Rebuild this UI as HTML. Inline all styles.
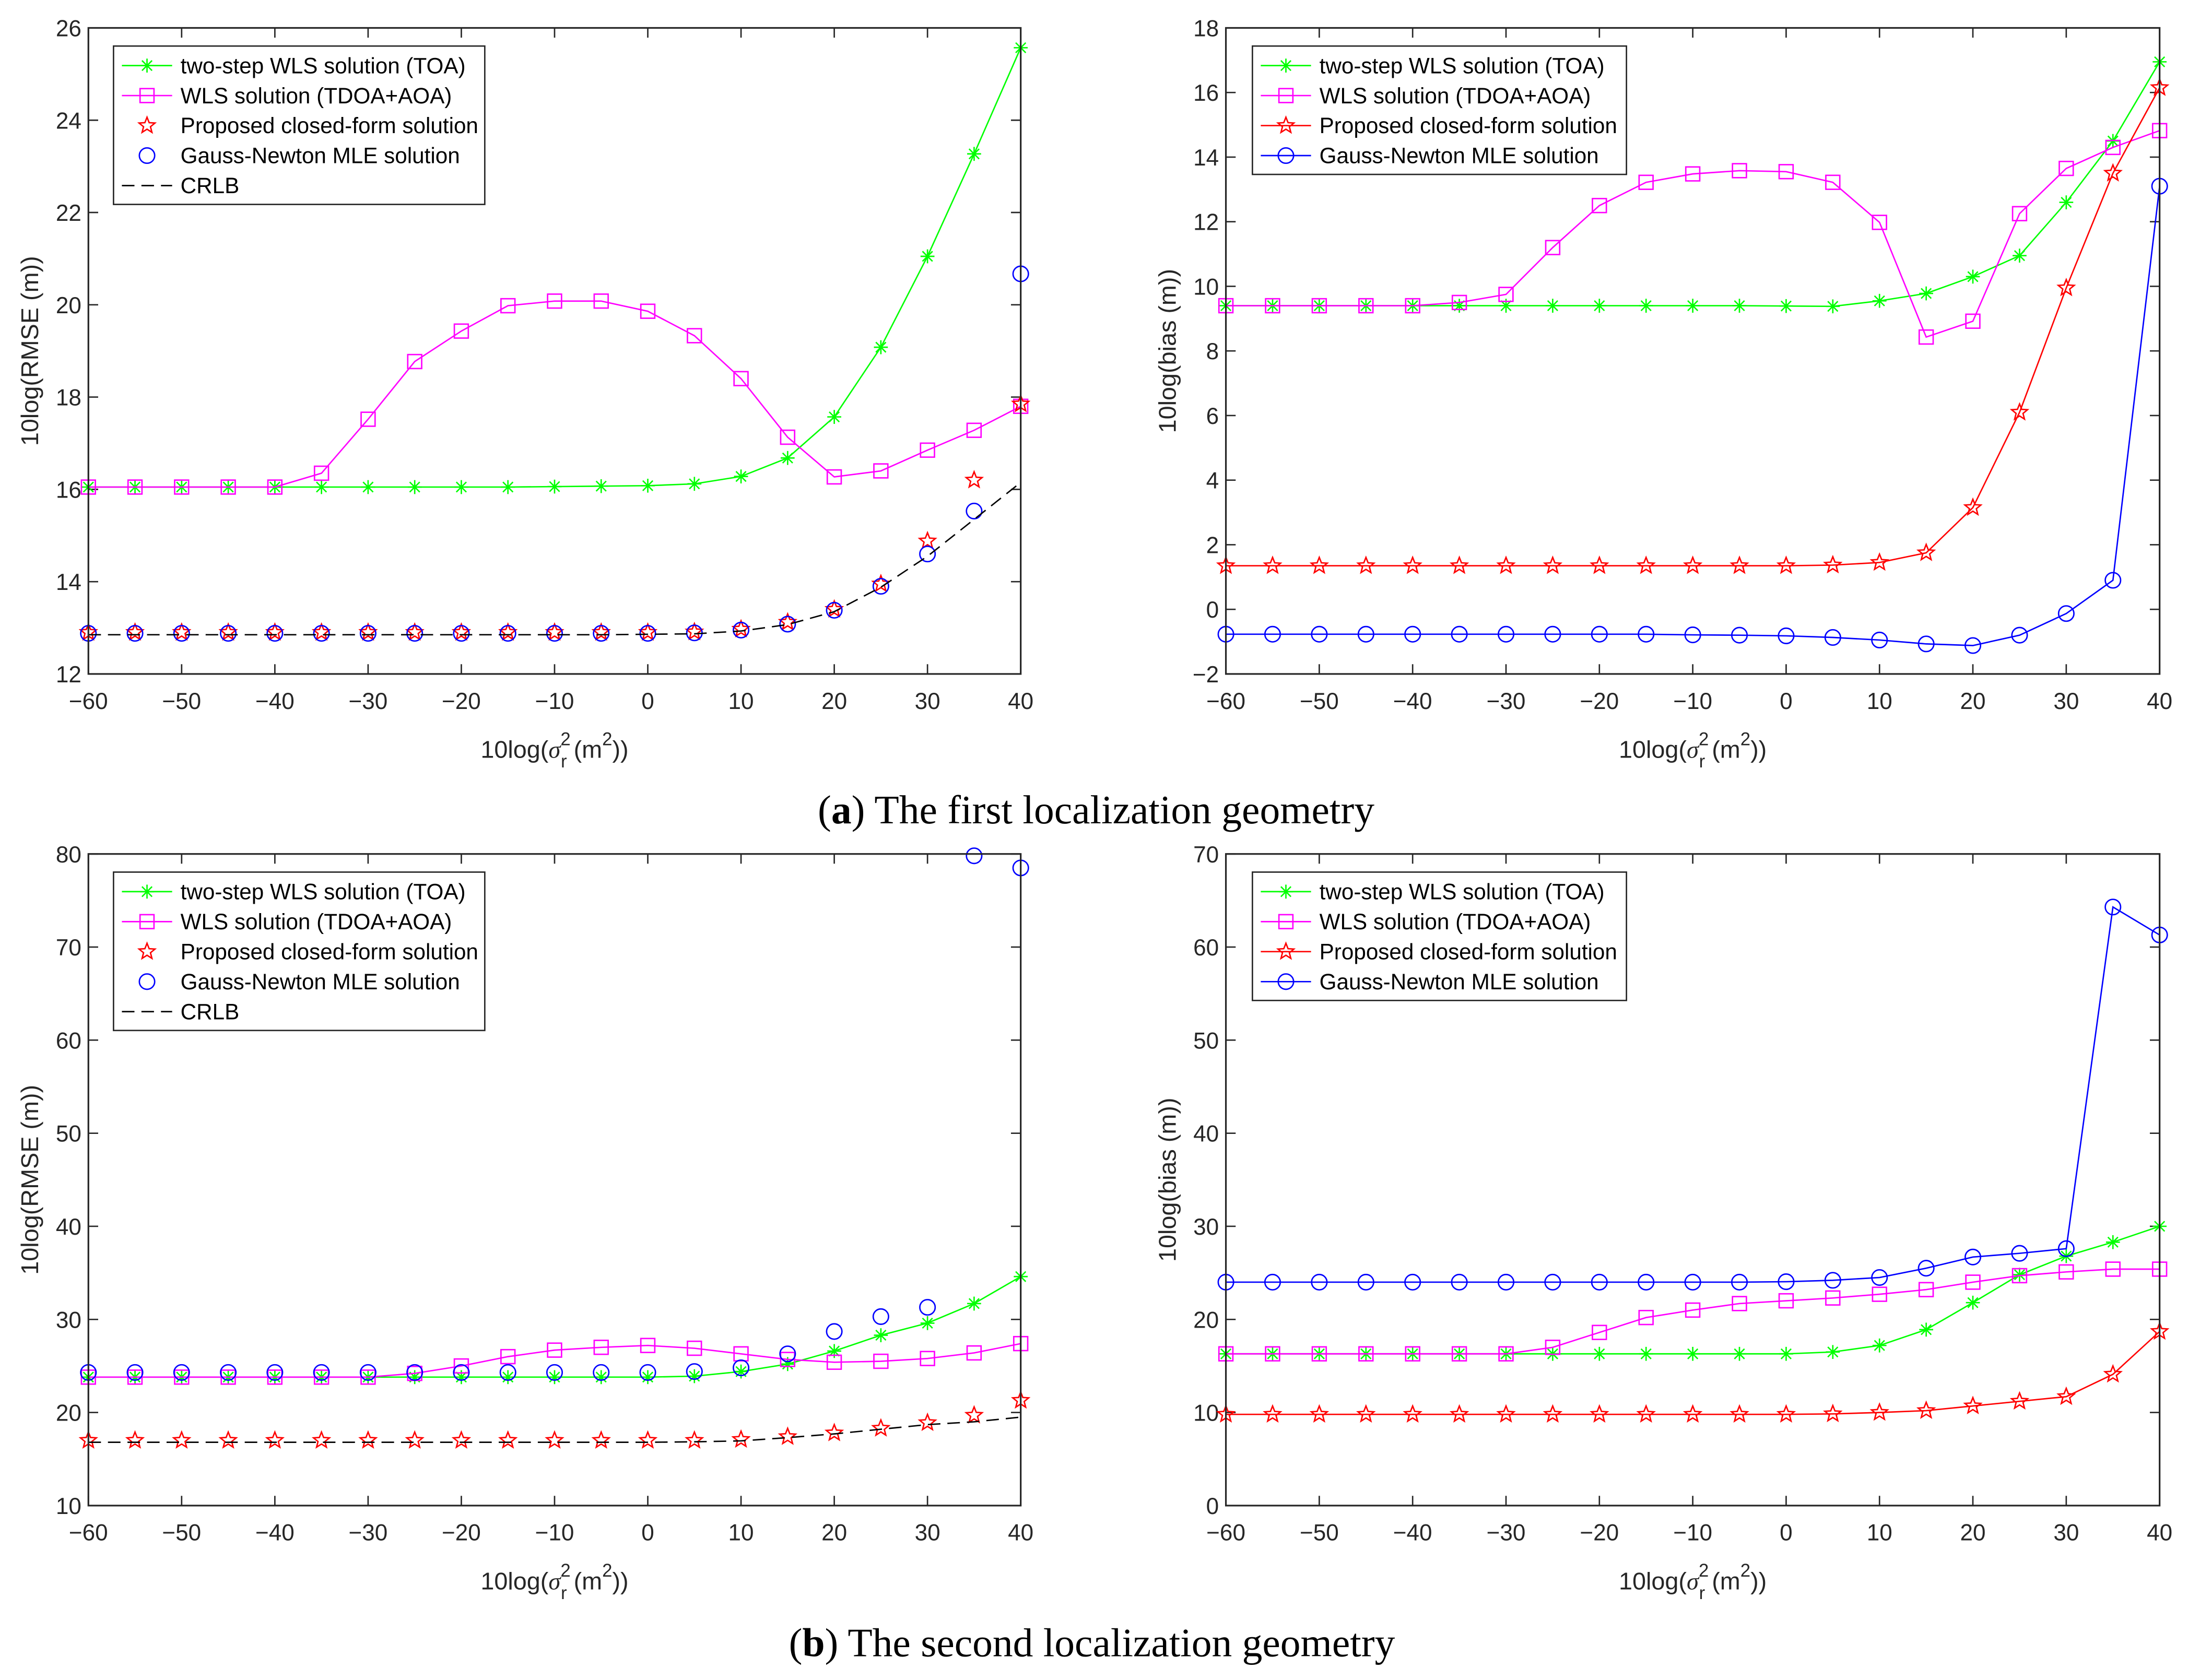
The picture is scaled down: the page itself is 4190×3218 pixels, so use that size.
<!DOCTYPE html>
<html><head><meta charset="utf-8"><style>
html,body{margin:0;padding:0;background:#fff;}
svg{display:block;}
text{font-family:"Liberation Sans",sans-serif;}
.cap{font-family:"Liberation Serif",serif;font-size:29px;}
</style></head><body>
<svg id="fig" xmlns="http://www.w3.org/2000/svg" width="4190" height="3218" viewBox="0 0 1567 1204">
<rect width="1567" height="1204" fill="#fff"/>
<text class="cap" x="785" y="590" text-anchor="middle">(<tspan font-weight="bold">a</tspan>) The first localization geometry</text>
<text class="cap" x="782" y="1187" text-anchor="middle">(<tspan font-weight="bold">b</tspan>) The second localization geometry</text>
</svg>
<script>
const xVals=[-60,-55,-50,-45,-40,-35,-30,-25,-20,-15,-10,-5,0,5,10,15,20,25,30,35,40];
const xTicks=[-60,-50,-40,-30,-20,-10,0,10,20,30,40];
// Panel a1: RMSE geometry 1
const a1Toa=[16.05,16.05,16.05,16.05,16.05,16.05,16.05,16.05,16.05,16.05,16.06,16.07,16.08,16.12,16.28,16.68,17.57,19.08,21.05,23.27,25.57];
const a1Wls=[16.05,16.05,16.05,16.05,16.05,16.35,17.52,18.77,19.43,19.98,20.08,20.08,19.86,19.33,18.4,17.13,16.27,16.4,16.85,17.28,17.8];
const a1Prop=[12.9,12.9,12.9,12.9,12.9,12.9,12.9,12.9,12.9,12.9,12.9,12.9,12.9,12.91,12.97,13.12,13.4,13.95,14.88,16.2,17.85];
const a1Gn=[12.88,12.88,12.88,12.88,12.88,12.88,12.88,12.88,12.88,12.88,12.88,12.88,12.88,12.89,12.95,13.08,13.38,13.9,14.6,15.53,20.67];
const a1Crlb=[12.85,12.85,12.85,12.85,12.85,12.85,12.85,12.85,12.85,12.85,12.85,12.85,12.86,12.87,12.93,13.07,13.35,13.88,14.55,15.35,16.15];
const a1YTicks=[12,14,16,18,20,22,24,26];
// Panel a2: bias geometry 1
const a2Toa=[9.4,9.4,9.4,9.4,9.4,9.4,9.4,9.4,9.4,9.4,9.4,9.4,9.39,9.38,9.55,9.78,10.3,10.95,12.6,14.5,16.95];
const a2Wls=[9.4,9.4,9.4,9.4,9.4,9.5,9.75,11.2,12.5,13.22,13.48,13.58,13.55,13.22,11.98,8.43,8.92,12.25,13.65,14.3,14.82];
const a2Prop=[1.35,1.35,1.35,1.35,1.35,1.35,1.35,1.35,1.35,1.35,1.35,1.35,1.35,1.37,1.45,1.75,3.15,6.1,9.95,13.5,16.15];
const a2Gn=[-0.77,-0.77,-0.77,-0.77,-0.77,-0.77,-0.77,-0.77,-0.77,-0.77,-0.79,-0.8,-0.82,-0.87,-0.95,-1.07,-1.12,-0.8,-0.13,0.9,13.1];
const a2YTicks=[-2,0,2,4,6,8,10,12,14,16,18];
// Panel b1: RMSE geometry 2
const b1Toa=[23.8,23.8,23.8,23.8,23.8,23.8,23.8,23.8,23.8,23.8,23.8,23.8,23.8,23.9,24.4,25.2,26.6,28.3,29.6,31.7,34.6];
const b1Wls=[23.8,23.8,23.8,23.8,23.8,23.8,23.8,24.2,25.0,26.0,26.7,27.0,27.2,26.9,26.3,25.7,25.4,25.5,25.8,26.4,27.4];
const b1Prop=[17.0,17.0,17.0,17.0,17.0,17.0,17.0,17.0,17.0,17.0,17.0,17.0,17.0,17.0,17.1,17.4,17.8,18.3,18.9,19.7,21.3];
const b1Gn=[24.3,24.3,24.3,24.3,24.3,24.3,24.3,24.3,24.3,24.3,24.3,24.3,24.3,24.4,24.8,26.3,28.7,30.3,31.3,79.8,78.5];
const b1Crlb=[16.8,16.8,16.8,16.8,16.8,16.8,16.8,16.8,16.8,16.8,16.8,16.8,16.8,16.85,16.95,17.3,17.7,18.2,18.7,19.0,19.5];
const b1YTicks=[10,20,30,40,50,60,70,80];
// Panel b2: bias geometry 2
const b2Toa=[16.3,16.3,16.3,16.3,16.3,16.3,16.3,16.3,16.3,16.3,16.3,16.3,16.3,16.5,17.2,18.9,21.8,24.8,26.8,28.3,30.0];
const b2Wls=[16.3,16.3,16.3,16.3,16.3,16.3,16.3,17.0,18.6,20.2,21.0,21.7,22.0,22.3,22.7,23.2,24.0,24.7,25.1,25.4,25.4];
const b2Prop=[9.8,9.8,9.8,9.8,9.8,9.8,9.8,9.8,9.8,9.8,9.8,9.8,9.8,9.85,10.0,10.2,10.7,11.2,11.7,14.1,18.7];
const b2Gn=[24.0,24.0,24.0,24.0,24.0,24.0,24.0,24.0,24.0,24.0,24.0,24.0,24.05,24.2,24.5,25.5,26.7,27.1,27.6,64.3,61.3];
const b2YTicks=[0,10,20,30,40,50,60,70];

const NS="http://www.w3.org/2000/svg";
const svg=document.getElementById('fig');
function mk(tag,attrs,parent){const e=document.createElementNS(NS,tag);for(const k in attrs)e.setAttribute(k,attrs[k]);(parent||svg).appendChild(e);return e;}
function fmt(v){return v<0?'\u2212'+Math.abs(v):String(v);}
function marker(g,type,x,y,color){
  const s=5;
  let m;
  if(type==='star'){
    let p=[];for(let i=0;i<10;i++){const r=i%2?2.6:6;const a=-Math.PI/2+i*Math.PI/5;p.push((x+r*Math.cos(a)).toFixed(2)+','+(y+r*Math.sin(a)).toFixed(2));}
    m=mk('polygon',{points:p.join(' '),fill:'none',stroke:color,'stroke-width':1},g);
  }else if(type==='square'){
    m=mk('rect',{x:x-5,y:y-5,width:10,height:10,fill:'none',stroke:color,'stroke-width':1},g);
  }else if(type==='circle'){
    m=mk('circle',{cx:x,cy:y,r:5.5,fill:'none',stroke:color,'stroke-width':1},g);
  }else{
    let d='M'+(x-s)+' '+y+'H'+(x+s)+'M'+x+' '+(y-s)+'V'+(y+s)+'M'+(x-3.6)+' '+(y-3.6)+'L'+(x+3.6)+' '+(y+3.6)+'M'+(x-3.6)+' '+(y+3.6)+'L'+(x+3.6)+' '+(y-3.6);
    m=mk('path',{d:d,stroke:color,'stroke-width':1,fill:'none'},g);
  }
  return m;
}
function panel(id,box,ymin,ymax,yTicks,ylabel,series,legend){
  const g=mk('g',{});
  
  
  const [L,T,R,B]=box;
  const sx=v=>L+(v-(-60))/(100)*(R-L);
  const sy=v=>B-(v-ymin)/(ymax-ymin)*(B-T);
  mk('rect',{x:L,y:T,width:R-L,height:B-T,fill:'#fff'},g);
  xTicks.forEach(t=>{
    const x=sx(t);
    mk('path',{d:`M${x} ${B}V${B-7}M${x} ${T}V${T+7}`,stroke:'#262626','stroke-width':1},g);
    const tx=mk('text',{x:x,y:B+25,'text-anchor':'middle','font-size':16.5,fill:'#262626'},g);
    tx.textContent=fmt(t);
    
    
  });
  yTicks.forEach(t=>{
    const y=sy(t);
    mk('path',{d:`M${L} ${y}H${L+7}M${R} ${y}H${R-7}`,stroke:'#262626','stroke-width':1},g);
    const tx=mk('text',{x:L-5,y:y+6,'text-anchor':'end','font-size':16.5,fill:'#262626'},g);
    tx.textContent=fmt(t);
    
    
  });
  series.forEach(s=>{
    const sg=mk('g',{},g);
    
    
    if(s.line){
      const pts=s.data.map((v,i)=>sx(xVals[i]).toFixed(2)+','+sy(v).toFixed(2)).join(' ');
      const a={points:pts,fill:'none',stroke:s.color,'stroke-width':1};
      if(s.dash)a['stroke-dasharray']='9,5';
      mk('polyline',a,sg);
    }
    if(s.marker){
      s.data.forEach((v,i)=>{const m=marker(sg,s.marker,sx(xVals[i]),sy(v),s.color);
        
        });
    }
  });
  mk('rect',{x:L,y:T,width:R-L,height:B-T,fill:'none',stroke:'#262626','stroke-width':1.2},g);
  const xl=mk('text',{x:(L+R)/2,y:B+60,'text-anchor':'middle','font-size':17.5,fill:'#262626'},g);
  
  
  xl.innerHTML='10log(<tspan font-family="Liberation Serif" font-style="italic">\u03C3</tspan><tspan font-size="13" dy="-9">2</tspan><tspan font-size="13" dx="-7" dy="16">r</tspan><tspan dy="-7"> (m</tspan><tspan font-size="13" dy="-9">2</tspan><tspan dy="9">))</tspan>';
  const yl=mk('text',{x:0,y:0,'text-anchor':'middle','font-size':17.5,fill:'#262626',transform:`translate(${L-36},${(T+B)/2}) rotate(-90)`},g);
  yl.textContent=ylabel;
  
  
  const [lx,ly,lw]=legend;
  const lh=series.length*21.5+6;
  const lg=mk('g',{},g);
  
  
  mk('rect',{x:lx,y:ly,width:lw,height:lh,fill:'#fff',stroke:'#262626','stroke-width':1},lg);
  series.forEach((s,i)=>{
    const ey=ly+14+i*21.5;
    const eg=mk('g',{},lg);
    
    
    if(s.line){const a={x1:lx+6,x2:lx+42,y1:ey,y2:ey,stroke:s.color,'stroke-width':1};if(s.dash)a['stroke-dasharray']='9,5';mk('line',a,eg);}
    if(s.marker)marker(eg,s.marker,lx+24,ey,s.color);
    const t=mk('text',{x:lx+48,y:ey+5.5,'font-size':15.8,fill:'#000'},eg);
    t.textContent=s.label;
  });
}
const G='#00ff00',M='#ff00ff',Rd='#ff0000',Bl='#0000ff';
panel('rmse-geometry1-plot',[63,20,731,483],12,26,a1YTicks,'10log(RMSE (m))',[
 {name:'series-two-step-wls',label:'two-step WLS solution (TOA)',data:a1Toa,color:G,line:1,marker:'ast'},
 {name:'series-wls-tdoa-aoa',label:'WLS solution (TDOA+AOA)',data:a1Wls,color:M,line:1,marker:'square'},
 {name:'series-proposed',label:'Proposed closed-form solution',data:a1Prop,color:Rd,line:0,marker:'star'},
 {name:'series-gauss-newton',label:'Gauss-Newton MLE solution',data:a1Gn,color:Bl,line:0,marker:'circle'},
 {name:'series-crlb',label:'CRLB',data:a1Crlb,color:'#000',line:1,dash:1,marker:null}],[81,33,266]);
panel('bias-geometry1-plot',[878,20,1547,483],-2,18,a2YTicks,'10log(bias (m))',[
 {name:'series-two-step-wls',label:'two-step WLS solution (TOA)',data:a2Toa,color:G,line:1,marker:'ast'},
 {name:'series-wls-tdoa-aoa',label:'WLS solution (TDOA+AOA)',data:a2Wls,color:M,line:1,marker:'square'},
 {name:'series-proposed',label:'Proposed closed-form solution',data:a2Prop,color:Rd,line:1,marker:'star'},
 {name:'series-gauss-newton',label:'Gauss-Newton MLE solution',data:a2Gn,color:Bl,line:1,marker:'circle'}],[897,33,268]);
panel('rmse-geometry2-plot',[63,612,731,1079],10,80,b1YTicks,'10log(RMSE (m))',[
 {name:'series-two-step-wls',label:'two-step WLS solution (TOA)',data:b1Toa,color:G,line:1,marker:'ast'},
 {name:'series-wls-tdoa-aoa',label:'WLS solution (TDOA+AOA)',data:b1Wls,color:M,line:1,marker:'square'},
 {name:'series-proposed',label:'Proposed closed-form solution',data:b1Prop,color:Rd,line:0,marker:'star'},
 {name:'series-gauss-newton',label:'Gauss-Newton MLE solution',data:b1Gn,color:Bl,line:0,marker:'circle'},
 {name:'series-crlb',label:'CRLB',data:b1Crlb,color:'#000',line:1,dash:1,marker:null}],[81,625,266]);
panel('bias-geometry2-plot',[878,612,1547,1079],0,70,b2YTicks,'10log(bias (m))',[
 {name:'series-two-step-wls',label:'two-step WLS solution (TOA)',data:b2Toa,color:G,line:1,marker:'ast'},
 {name:'series-wls-tdoa-aoa',label:'WLS solution (TDOA+AOA)',data:b2Wls,color:M,line:1,marker:'square'},
 {name:'series-proposed',label:'Proposed closed-form solution',data:b2Prop,color:Rd,line:1,marker:'star'},
 {name:'series-gauss-newton',label:'Gauss-Newton MLE solution',data:b2Gn,color:Bl,line:1,marker:'circle'}],[897,625,268]);
</script>
</body></html>
